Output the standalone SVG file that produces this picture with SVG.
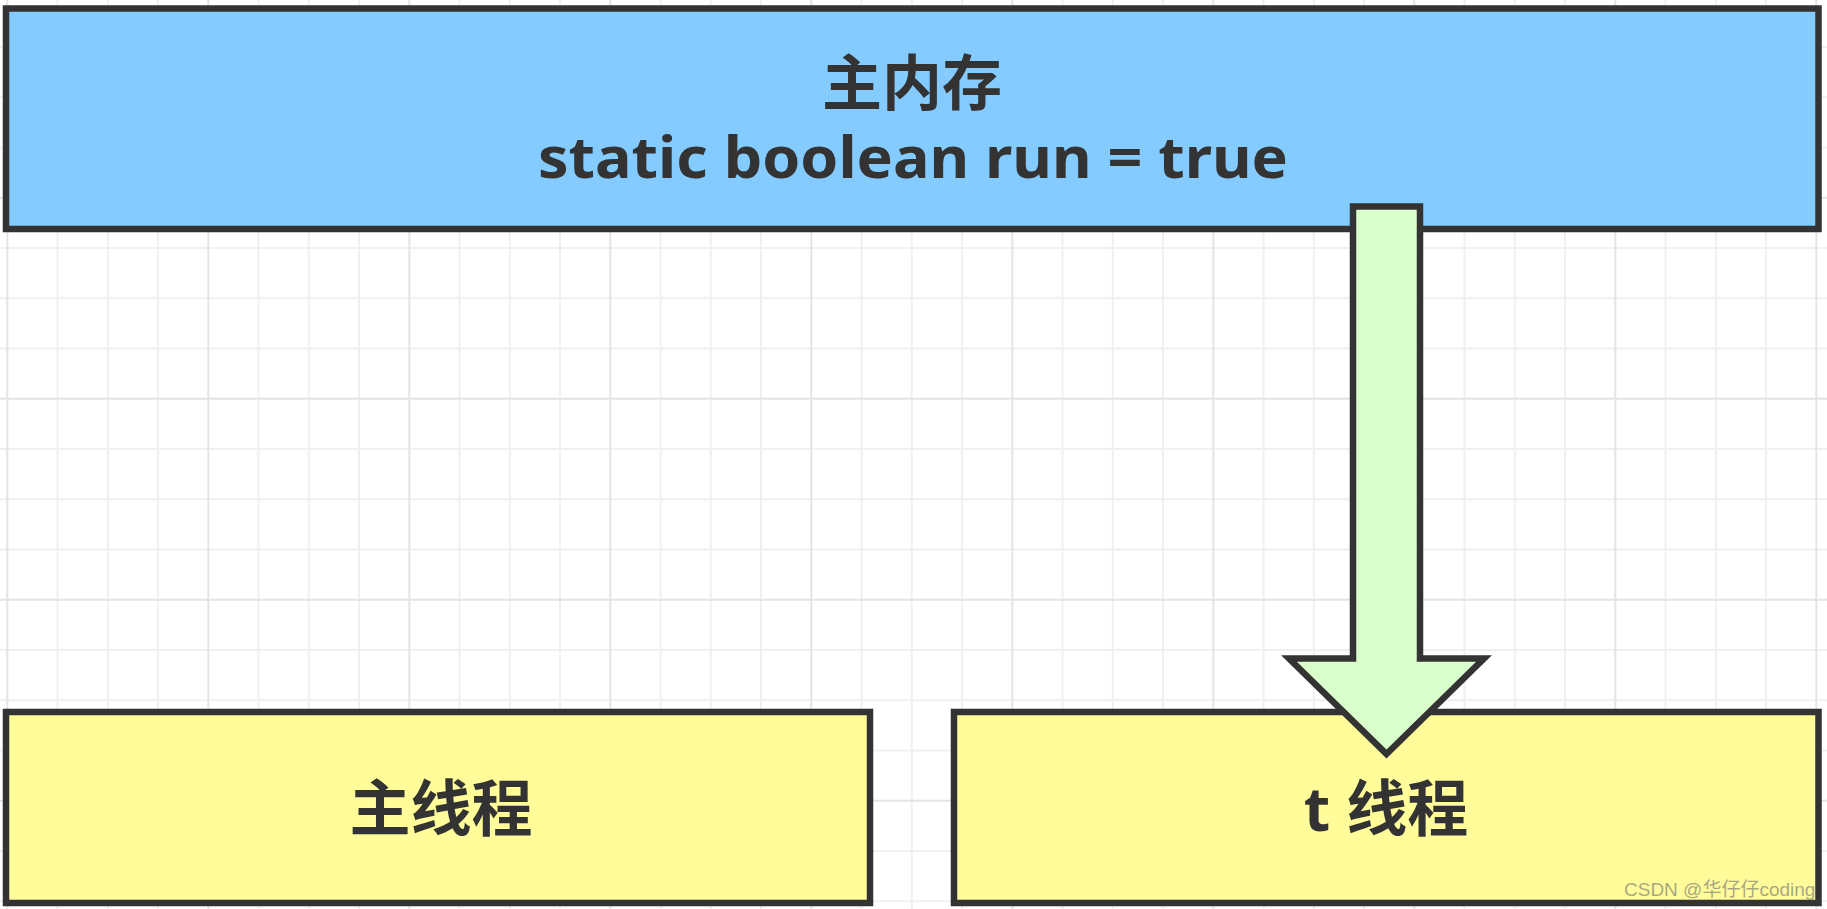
<svg xmlns="http://www.w3.org/2000/svg" width="1827" height="909" viewBox="0 0 1827 909">
  <style>
    .minor { stroke: #f0f0f0; stroke-width: 2; fill: none; }
    .major { stroke: #e4e4e4; stroke-width: 2; fill: none; }
    .box { stroke: #333333; stroke-width: 6.5; }
    .mem { fill: #84CBFF; }
    .thr { fill: #FFFC99; }
    .arrow { fill: #D9FFCB; stroke: #333333; stroke-width: 6.5; stroke-linejoin: miter; }
    .lbl { font-family: "Noto Sans", "Noto Sans CJK SC", sans-serif; font-weight: bold; fill: #333333; text-anchor: middle; }
    .wm { font-family: "Liberation Sans", "Noto Sans CJK SC", sans-serif; fill: #8a8a7a; fill-opacity: 0.75; font-size: 19px; }
  </style>
  <rect x="0" y="0" width="1827" height="909" fill="#ffffff"/>
  <g id="grid">
    <path class="minor" d="M57.55 0V909M107.8 0V909M158.05 0V909M258.55 0V909M308.8 0V909M359.05 0V909M459.55 0V909M509.8 0V909M560.05 0V909M660.55 0V909M710.8 0V909M761.05 0V909M861.55 0V909M911.8 0V909M962.05 0V909M1062.55 0V909M1112.8 0V909M1163.05 0V909M1263.55 0V909M1313.8 0V909M1364.05 0V909M1464.55 0V909M1514.8 0V909M1565.05 0V909M1665.55 0V909M1715.8 0V909M1766.05 0V909M0 46.95H1827M0 97.2H1827M0 147.45H1827M0 247.95H1827M0 298.2H1827M0 348.45H1827M0 448.95H1827M0 499.2H1827M0 549.45H1827M0 649.95H1827M0 700.2H1827M0 750.45H1827M0 850.95H1827M0 901.2H1827"/>
    <path class="major" d="M7.3 0V909M208.3 0V909M409.3 0V909M610.3 0V909M811.3 0V909M1012.3 0V909M1213.3 0V909M1414.3 0V909M1615.3 0V909M1816.3 0V909M0 197.7H1827M0 398.7H1827M0 599.7H1827M0 800.7H1827"/>
  </g>
  <g id="main-memory">
    <rect class="box mem" x="6" y="8.5" width="1812.5" height="220.5"/>
    <text class="lbl" x="912" y="105" font-size="60">主内存</text>
    <text class="lbl" x="913" y="178" font-size="58" textLength="750" lengthAdjust="spacingAndGlyphs">static boolean run = true</text>
  </g>
  <g id="main-thread">
    <rect class="box thr" x="6" y="712" width="864" height="191"/>
    <text class="lbl" x="441" y="831" font-size="61">主线程</text>
  </g>
  <g id="t-thread">
    <rect class="box thr" x="954" y="712" width="864.5" height="191"/>
    <text class="lbl" x="1386" y="831" font-size="61">t 线程</text>
  </g>
  <g id="connectors">
    <polygon class="arrow" points="1353,206.5 1420,206.5 1420,658.5 1484,658.5 1386.5,754 1289,658.5 1353,658.5"/>
  </g>
  <text class="wm" x="1624" y="896">CSDN @华仔仔coding</text>
</svg>
